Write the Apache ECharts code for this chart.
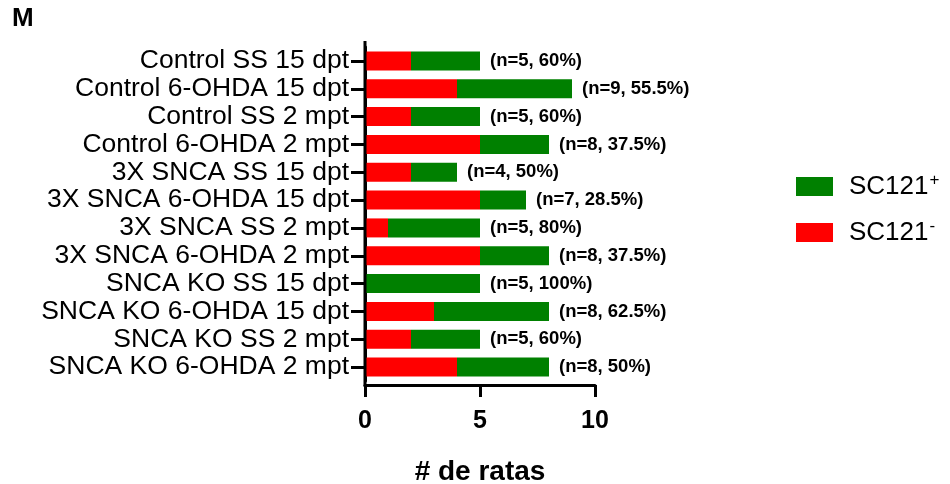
<!DOCTYPE html>
<html>
<head>
<meta charset="utf-8">
<script src="https://cdn.jsdelivr.net/npm/echarts@6/dist/echarts.min.js"></script>
<style>
  html, body { margin: 0; padding: 0; background: #fff; }
  #chart { width: 950px; height: 484px; }
</style>
</head>
<body>
<div id="chart"></div>
<script>
// Groups, listed top to bottom
const groups = [
  'Control SS 15 dpt',
  'Control 6-OHDA 15 dpt',
  'Control SS 2 mpt',
  'Control 6-OHDA 2 mpt',
  '3X SNCA SS 15 dpt',
  '3X SNCA 6-OHDA 15 dpt',
  '3X SNCA SS 2 mpt',
  '3X SNCA 6-OHDA 2 mpt',
  'SNCA KO SS 15 dpt',
  'SNCA KO 6-OHDA 15 dpt',
  'SNCA KO SS 2 mpt',
  'SNCA KO 6-OHDA 2 mpt'
];

// Rat counts per group
const negCounts = [2, 4, 2, 5, 2, 5, 1, 5, 0, 3, 2, 4];   // SC121-
const posCounts = [3, 5, 3, 3, 2, 2, 4, 3, 5, 5, 3, 4];   // SC121+

// Percentage of SC121+ rats as reported
const posPercent = ['60%', '55.5%', '60%', '37.5%', '50%', '28.5%', '80%', '37.5%', '100%', '62.5%', '60%', '50%'];

const xTicks = [0, 5, 10];

const FONT = '"Liberation Sans", Arial, Helvetica, sans-serif';

const chart = echarts.init(document.getElementById('chart'), null, { renderer: 'canvas' });

const gridLeft = 365, gridTop = 47, gridBottom = 103, gridRight = 355;

chart.setOption({
  animation: false,
  backgroundColor: '#ffffff',
  title: {
    text: 'M',
    left: 7,
    top: 1,
    textStyle: { fontFamily: FONT, fontSize: 26, fontWeight: 'bold', color: '#000' }
  },
  legend: {
    data: ['SC121+', 'SC121-'],
    orient: 'vertical',
    left: 791,
    top: 167,
    itemWidth: 37,
    itemHeight: 19,
    itemGap: 17,
    icon: 'rect',
    formatter: function (name) {
      return '{b|' + name.slice(0, 5) + '}{s|' + name.slice(5) + '}';
    },
    textStyle: {
      padding: [0, 0, 0, 11],
      rich: {
        b: { fontFamily: FONT, fontSize: 26, color: '#000', lineHeight: 29 },
        s: { fontFamily: FONT, fontSize: 17, color: '#000', verticalAlign: 'top', lineHeight: 29, padding: [0, 0, 12, 1] }
      }
    }
  },
  grid: {
    left: gridLeft, top: gridTop, bottom: gridBottom, right: gridRight,
    containLabel: false,
    outerBoundsMode: 'none'
  },
  xAxis: {
    type: 'value',
    min: xTicks[0],
    max: xTicks[xTicks.length - 1],
    interval: xTicks[1] - xTicks[0],
    offset: 4,
    name: '# de ratas',
    nameLocation: 'middle',
    nameGap: 73,
    nameTextStyle: { fontFamily: FONT, fontSize: 28, fontWeight: 'bold', color: '#000' },
    axisLine: { show: true, lineStyle: { color: '#000', width: 3 } },
    axisTick: { show: true, length: 12, lineStyle: { color: '#000', width: 3 } },
    axisLabel: { margin: 24, fontFamily: FONT, fontSize: 25, fontWeight: 'bold', color: '#000' },
    splitLine: { show: false }
  },
  yAxis: {
    type: 'category',
    data: groups,
    inverse: true,
    axisLine: { show: true, lineStyle: { color: '#000', width: 3 } },
    axisTick: { show: true, interval: 0, length: 14, alignWithLabel: true, lineStyle: { color: '#000', width: 3 } },
    axisLabel: { interval: 0, margin: 16, fontFamily: FONT, fontSize: 26.5, color: '#000' }
  },
  graphic: [
    {
      // spine of the category axis, running past the bar area to meet the value axis
      type: 'line',
      shape: { x1: gridLeft, y1: gridTop - 6, x2: gridLeft, y2: 484 - gridBottom + 5.5 },
      style: { stroke: '#000', lineWidth: 3 },
      z: 10
    }
  ],
  series: [
    {
      name: 'SC121-',
      type: 'bar',
      stack: 'total',
      barWidth: 19,
      itemStyle: { color: '#ff0000' },
      data: negCounts
    },
    {
      name: 'SC121+',
      type: 'bar',
      stack: 'total',
      barWidth: 19,
      itemStyle: { color: '#008000' },
      data: posCounts,
      label: {
        show: true,
        position: 'right',
        distance: 10,
        fontFamily: FONT,
        fontSize: 18.5,
        fontWeight: 'bold',
        color: '#000',
        formatter: function (p) {
          const i = p.dataIndex;
          return '(n=' + (negCounts[i] + posCounts[i]) + ', ' + posPercent[i] + ')';
        }
      }
    }
  ]
});
</script>
</body>
</html>
